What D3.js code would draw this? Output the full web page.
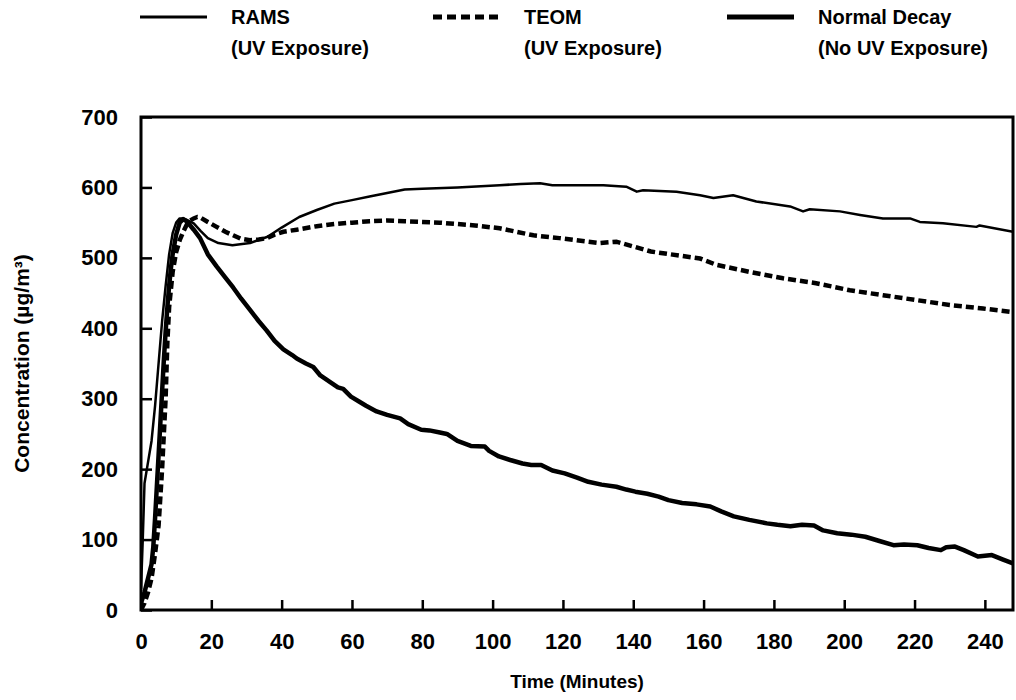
<!DOCTYPE html>
<html>
<head>
<meta charset="utf-8">
<script src="https://cdn.jsdelivr.net/npm/d3@7"></script>
<style>
  html, body { margin: 0; padding: 0; background: #fff; }
  svg { display: block; }
  text { font-family: "Liberation Sans", Arial, sans-serif; font-weight: bold; fill: #000; }
</style>
</head>
<body>
<svg id="chart" width="1016" height="700"></svg>
<script>
// ---- data ----
const xTicks = [0, 20, 40, 60, 80, 100, 120, 140, 160, 180, 200, 220, 240];
const yTicks = [0, 100, 200, 300, 400, 500, 600, 700];
const xTitle = "Time (Minutes)";
const yTitle = "Concentration (µg/m³)";

const seriesNames = ["RAMS", "TEOM", "Normal Decay"];
const seriesSub = ["(UV Exposure)", "(UV Exposure)", "(No UV Exposure)"];

const ramsTime = [0,0.5,1,2,3,4,5,6,7,8,9,10,11,12,13,15,17,19,22,26,31,36,40,45,50,55,60,65,70,75,80,90,102,108,113.5,117,125,131.5,138,141,142.8,152.3,159,162.8,168.4,175,184.6,188.3,190.2,198.8,204.5,211,218.7,221.5,228.1,237.6,238.5,248];
const ramsConc = [30,100,180,210,240,290,350,410,460,505,535,550,556,556,554,549,538,528,521,518,521,530,543,558,568,577,582,587,592,597,598,600,603,605,606,603,603,603,601,594,596,594,589,585,589,580,573,566,569,566,561,556,556,551,549,544,546,537];

const teomTime = [0,1,2,3,4,5,6,7,7.5,8,9,10,11,12,13,14,15,16,17,19,21.5,24,26.2,28.5,31,33.5,35.7,38,40.5,44.3,50,55,60,65,70,75,80,85,90,95,102,111.6,119,130.5,135.2,145,159,163.7,173.2,182.6,192,201.6,211,220.6,230,239.5,248];
const teomConc = [0,10,25,45,80,120,200,300,380,430,480,508,525,537,547,553,556,558,557,551,544,537,532,527,525,526,528,533,537,540,545,548,550,552,553,552,551,550,548,546,542,532,528,521,523,509,499,490,480,471,464,454,447,440,433,428,423];

const decayTime = [0,1,2,3,3.5,4,4.5,5,5.5,6,6.5,7,7.5,8,8.5,9,10,11,12,13,14,15,16.8,19,21.5,24,26.2,28.5,31,33.5,35.7,38,40.5,43,44.3,46.9,49,51,53.7,56,57.5,59.7,62,64,67,70,73.7,76,79.7,82,85,87,90,93.8,97.8,99,101.8,105,108.5,111,113.8,117,120.5,124,127.2,131,135.2,138,140.6,144,147.2,150,153.9,158,161.9,165,168.6,173,178,181,184.7,188,191.4,194,198,202,206,210,214,217,220.8,224,227.5,229,231.5,234,238,240,242,245,248];
const decayConc = [10,25,45,65,90,130,175,220,265,310,355,395,430,460,485,505,533,550,555,552,546,540,528,505,488,472,458,442,426,410,397,382,370,362,357,350,345,333,324,316,314,303,296,290,282,277,272,264,256,255,252,250,240,233,232,226,218,213,208,206,206,198,194,188,182,178,175,171,168,165,161,156,152,150,147,140,133,128,123,121,119,121,120,113,109,107,104,98,92,93,92,88,85,89,90,85,76,77,78,72,66];

// ---- layout ----
const svg = d3.select("#chart");
const L = 141, R = 1013, T = 117, B = 610;

const x = d3.scaleLinear().domain([0, 248]).range([L, R]);
const y = d3.scaleLinear().domain([0, 700]).range([B, T]);

// axes (ticks inward)
const yAxis = d3.axisLeft(y).tickValues(yTicks).tickSize(-11).tickPadding(23).tickFormat(d3.format("d"));
const gy = svg.append("g").attr("transform", `translate(${L},0)`).call(yAxis);
gy.select(".domain").remove();
gy.selectAll("line").attr("stroke", "#000").attr("stroke-width", 2.5);
gy.selectAll("text").style("font-size", "22px").style("font-family", "'Liberation Sans', Arial, sans-serif").style("font-weight", "bold").attr("fill", "#000");

const xAxis = d3.axisBottom(x).tickValues(xTicks).tickSize(-10).tickPadding(23).tickFormat(d3.format("d"));
const gx = svg.append("g").attr("transform", `translate(0,${B})`).call(xAxis);
gx.select(".domain").remove();
gx.selectAll("line").attr("stroke", "#000").attr("stroke-width", 2.5);
gx.selectAll("text").style("font-size", "22px").style("font-family", "'Liberation Sans', Arial, sans-serif").style("font-weight", "bold").attr("fill", "#000");

// frame
svg.append("rect").attr("x", L).attr("y", T).attr("width", R - L).attr("height", B - T)
  .attr("fill", "none").attr("stroke", "#000").attr("stroke-width", 3);

// lines
svg.append("clipPath").attr("id", "clip").append("rect")
  .attr("x", L).attr("y", T).attr("width", R - L).attr("height", B - T);

function pts(ts, vs) { return ts.map((t, i) => [t, vs[i]]); }
const line = d3.line().x(d => x(d[0])).y(d => y(d[1]));

const plot = svg.append("g").attr("clip-path", "url(#clip)");
plot.append("path").datum(pts(decayTime, decayConc)).attr("d", line)
  .attr("fill", "none").attr("stroke", "#000").attr("stroke-width", 4.5).attr("stroke-linejoin", "round");
plot.append("path").datum(pts(teomTime, teomConc)).attr("d", line)
  .attr("fill", "none").attr("stroke", "#000").attr("stroke-width", 4.5).attr("stroke-dasharray", "8,4");
plot.append("path").datum(pts(ramsTime, ramsConc)).attr("d", line)
  .attr("fill", "none").attr("stroke", "#000").attr("stroke-width", 2.5).attr("stroke-linejoin", "round");

// axis titles
svg.append("text").attr("x", (L + R) / 2).attr("y", 688).attr("text-anchor", "middle")
  .style("font-size", "19px").text(xTitle);
svg.append("text").attr("transform", `translate(29,${(T + B) / 2}) rotate(-90)`).attr("text-anchor", "middle")
  .style("font-size", "21px").text(yTitle);

// legend
const legX = [140, 433, 727];
const legStyles = [
  { w: 3, dash: null },
  { w: 5, dash: "9,5" },
  { w: 5, dash: null }
];
seriesNames.forEach((name, i) => {
  const g = svg.append("g").attr("transform", `translate(${legX[i]},0)`);
  g.append("line").attr("x1", 0).attr("x2", 67).attr("y1", 17).attr("y2", 17)
    .attr("stroke", "#000").attr("stroke-width", legStyles[i].w)
    .attr("stroke-dasharray", legStyles[i].dash);
  g.append("text").attr("x", 91).attr("y", 24).style("font-size", "20px").text(name);
  g.append("text").attr("x", 91).attr("y", 55).style("font-size", "20px").text(seriesSub[i]);
});
</script>
</body>
</html>
